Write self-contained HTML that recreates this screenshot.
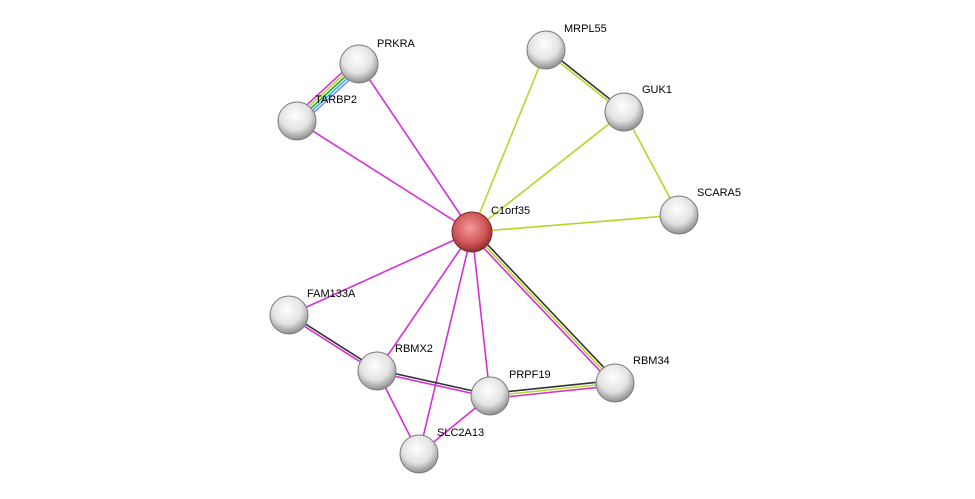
<!DOCTYPE html>
<html><head><meta charset="utf-8"><style>html,body{margin:0;padding:0;background:#fff;width:975px;height:499px;overflow:hidden}svg{display:block}text{font-family:"Liberation Sans",sans-serif;font-size:11px;fill:#000}</style></head>
<body>
<svg id="s" width="975" height="499" viewBox="0 0 975 499">
<defs>
<radialGradient id="g" cx="0.45" cy="0.35" r="0.65"><stop offset="0" stop-color="#ffffff"/><stop offset="0.6" stop-color="#e2e2e2"/><stop offset="1" stop-color="#8e8e8e"/></radialGradient>
<radialGradient id="r" cx="0.45" cy="0.4" r="0.65"><stop offset="0" stop-color="#f29a9a"/><stop offset="0.6" stop-color="#d05858"/><stop offset="1" stop-color="#842626"/></radialGradient>
</defs>
<g id="edges"></g>
<g id="nodes"></g>
<text x="491" y="214">C1orf35</text>
<text x="377" y="47">PRKRA</text>
<text x="315" y="103">TARBP2</text>
<text x="564" y="32">MRPL55</text>
<text x="642" y="93">GUK1</text>
<text x="697" y="196">SCARA5</text>
<text x="307" y="297">FAM133A</text>
<text x="395" y="352">RBMX2</text>
<text x="509" y="378">PRPF19</text>
<text x="633" y="364">RBM34</text>
<text x="437" y="436">SLC2A13</text>
</svg>
<script>
var N={C:[472,232],PR:[359,64],TA:[297,121],MR:[546,50],GU:[624,112],SC:[679,215],FA:[289,315],RX:[377,371],PF:[490,396],RB:[615,383],SL:[419,454]};
var M="#d62fd6",Y="#b5d628",K="#333",B="#7b8cff",CY="#29b5d6";
var E=[["C","PR",[M]],["C","TA",[M]],["C","MR",[Y]],["C","GU",[Y]],["C","SC",[Y]],["C","FA",[M]],["C","RX",[M]],["C","SL",[M]],["C","PF",[M]],["C","RB",[K,Y,M]],
["PR","TA",[B,CY,"#3a3",Y,M]],["MR","GU",[K,Y]],["GU","SC",[Y]],["FA","RX",[K,M]],["RX","PF",[K,M]],["RX","SL",[M]],["PF","SL",[M]],["PF","RB",[K,Y,M]]];
var ns="http://www.w3.org/2000/svg",eg=document.getElementById("edges"),ng=document.getElementById("nodes");
E.forEach(function(e){var a=N[e[0]],b=N[e[1]],dx=b[0]-a[0],dy=b[1]-a[1],l=Math.hypot(dx,dy),px=-dy/l,py=dx/l,n=e[2].length;
e[2].forEach(function(c,i){var o=(i-(n-1)/2)*2.6;var L=document.createElementNS(ns,"line");
L.setAttribute("x1",a[0]+px*o);L.setAttribute("y1",a[1]+py*o);L.setAttribute("x2",b[0]+px*o);L.setAttribute("y2",b[1]+py*o);
L.setAttribute("stroke",c);L.setAttribute("stroke-width",1.6);eg.appendChild(L);});});
for(var k in N){var c=document.createElementNS(ns,"circle");c.setAttribute("cx",N[k][0]);c.setAttribute("cy",N[k][1]);c.setAttribute("r",k=="C"?20:19);
c.setAttribute("fill",k=="C"?"url(#r)":"url(#g)");c.setAttribute("stroke",k=="C"?"#7a2a2a":"#7a7a7a");c.setAttribute("stroke-width",1);ng.appendChild(c);}
</script>
</body></html>
